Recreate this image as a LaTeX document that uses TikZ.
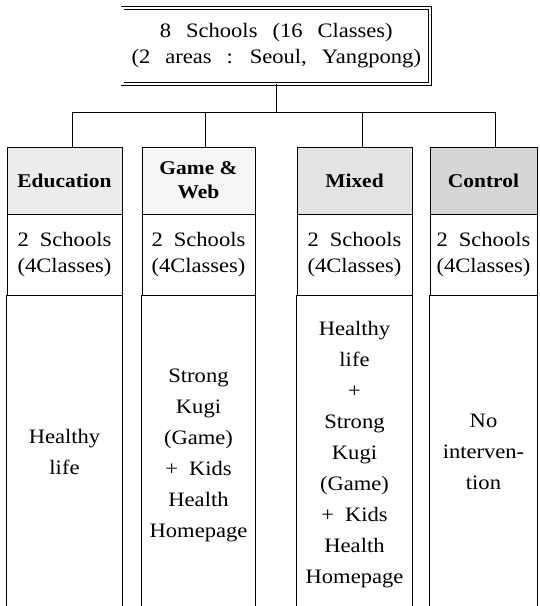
\documentclass[tikz,border=0pt]{standalone}
\usepackage{fontspec}
\setmainfont{Liberation Serif}
\newfontfamily\myserif{Liberation Serif}[FakeStretch=1.1]
\newcommand\mywsp{\spaceskip=11pt plus 1pt\relax}
\newcommand\mywspb{\spaceskip=15pt plus 1pt\relax}
\begin{document}
\begin{tikzpicture}[x=1pt,y=-1pt, line width=0.9pt,
  txt/.style={align=center, inner sep=0pt, font=\myserif\fontsize{20.5}{31}\selectfont, execute at begin node=\mywsp},
  hdrbox/.style={draw, align=center, inner sep=0pt, minimum height=67pt, font=\myserif\bfseries\fontsize{19.5}{24}\selectfont},
  cntbox/.style={draw, txt, minimum height=81pt, font=\myserif\fontsize{20.5}{26}\selectfont},
  topbox/.style={draw, double, double distance=2.4pt, line width=0.6pt, align=center, inner sep=0pt,
    minimum width=307.5pt, minimum height=76pt, font=\myserif\fontsize{20.5}{26}\selectfont, execute at begin node=\mywspb},
  wire/.style={line width=0.9pt}
]
\useasboundingbox (0,0) rectangle (539,606);
\coordinate (bot) at (0,606);

\node[topbox] (top) at (276.3,46) {8 Schools (16 Classes)\\(2 areas : Seoul, Yangpong)};

% headers
\node[hdrbox, fill=gray!15, minimum width=115pt] (h1) at (64.5,180.5) {Education};
\node[hdrbox, fill=gray!7, minimum width=113pt] (h2) at (198.5,180.5) {Game \&\\Web};
\node[hdrbox, fill=gray!22, minimum width=115pt] (h3) at (354.5,180.5) {Mixed};
\node[hdrbox, fill=gray!32, minimum width=107pt] (h4) at (483.5,180.5) {Control};

% schools
\node[cntbox, minimum width=115pt] (s1) at (64.5,254.5) {2 Schools\\(4Classes)};
\node[cntbox, minimum width=113pt] (s2) at (198.5,254.5) {2 Schools\\(4Classes)};
\node[cntbox, minimum width=115pt] (s3) at (354.5,254.5) {2 Schools\\(4Classes)};
\node[cntbox, minimum width=107pt] (s4) at (483.5,254.5) {2 Schools\\(4Classes)};

% bodies
\node[txt] (b1) at (64.5,452) {Healthy\\life};
\node[txt] (b2) at (198.5,455) {Strong\\Kugi\\(Game)\\+ Kids\\Health\\Homepage};
\node[txt] (b3) at (354.5,455) {Healthy\\life\\+\\Strong\\Kugi\\(Game)\\+ Kids\\Health\\Homepage};
\node[txt] (b4) at (483.5,452) {No\\interven-\\tion};

\foreach \i in {1,2,3,4}{
  \draw[wire] (s\i.south west) -- (s\i.south west |- bot);
  \draw[wire] (s\i.south east) -- (s\i.south east |- bot);
}

% connectors
\coordinate (d1) at (72,112);
\coordinate (d2) at (205,112);
\coordinate (d3) at (362,112);
\coordinate (d4) at (495,112);
\draw[wire] (top.south) -- (top.south |- d1);
\draw[wire] (d1) -- (d4);
\draw[wire] (d1) -- (d1 |- h1.north);
\draw[wire] (d2) -- (d2 |- h2.north);
\draw[wire] (d3) -- (d3 |- h3.north);
\draw[wire] (d4) -- (d4 |- h4.north);
\end{tikzpicture}
\end{document}
